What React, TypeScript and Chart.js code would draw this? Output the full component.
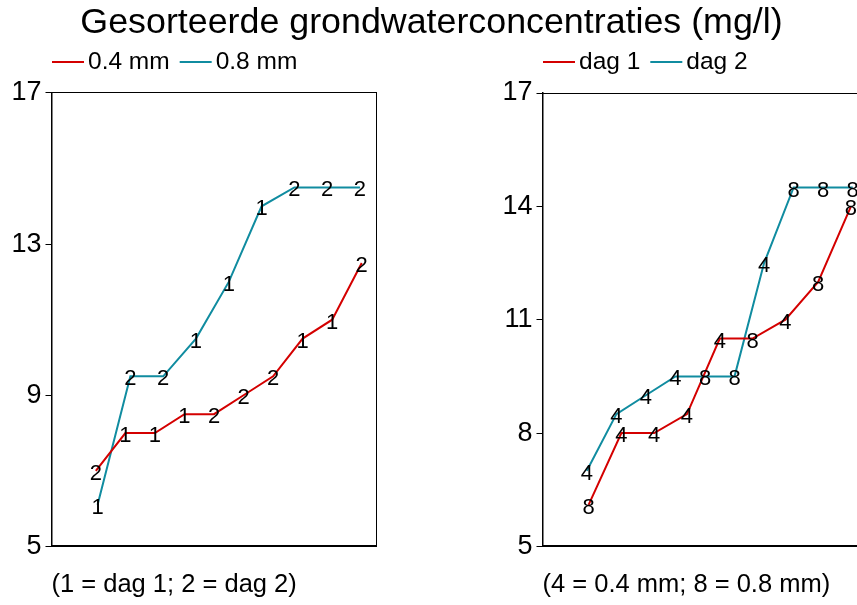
import React, { useEffect, useRef } from 'react';
import { Chart, registerables } from 'chart.js';

Chart.register(...registerables);

// ---------- data ----------
const titleText = 'Gesorteerde grondwaterconcentraties (mg/l)';
const leftCaption = '(1 = dag 1; 2 = dag 2)';
const rightCaption = '(4 = 0.4 mm; 8 = 0.8 mm)';

// plotting positions (fraction of the sorted series)
const pos10 = [0.05, 0.15, 0.25, 0.35, 0.45, 0.55, 0.65, 0.75, 0.85, 0.95];
const pos9 = [0.056, 0.167, 0.278, 0.389, 0.5, 0.611, 0.722, 0.833, 0.944];

// left panel: per grain size, labels = day
const mm04Values = [7.0, 8.0, 8.0, 8.5, 8.5, 9.0, 9.5, 10.5, 11.0, 12.5];
const mm04Day = ['2', '1', '1', '1', '2', '2', '2', '1', '1', '2'];
const mm08Values = [6.1, 9.5, 9.5, 10.5, 12.0, 14.0, 14.5, 14.5, 14.5];
const mm08Day = ['1', '2', '2', '1', '1', '1', '2', '2', '2'];

// right panel: per day, labels = grain size
const day1Values = [6.1, 8.0, 8.0, 8.5, 10.5, 10.5, 11.0, 12.0, 14.0];
const day1Mm = ['8', '4', '4', '4', '4', '8', '4', '8', '8'];
const day2Values = [7.0, 8.5, 9.0, 9.5, 9.5, 9.5, 12.5, 14.5, 14.5, 14.5];
const day2Mm = ['4', '4', '4', '4', '8', '8', '4', '8', '8', '8'];

const leftTicks = { min: 5, max: 17, step: 4 };
const rightTicks = { min: 5, max: 17, step: 3 };

// ---------- styling ----------
const FONT = "'Liberation Sans', Arial, Helvetica, sans-serif";
const RED = '#D40000';
const TEAL = '#108CA0';

const toPoints = (xs: number[], ys: number[]) => ys.map((y, i) => ({ x: xs[i], y }));

const rLegend = {
  id: 'rLegend',
  afterDraw(chart: any, _args: any, opts: any) {
    const { ctx, chartArea } = chart;
    ctx.save();
    ctx.font = `${opts.size}px ${FONT}`;
    ctx.textBaseline = 'middle';
    ctx.textAlign = 'left';
    let x = chartArea.left + (opts.dx || 0);
    const y = opts.y;
    chart.data.datasets.forEach((ds: any) => {
      ctx.strokeStyle = ds.borderColor;
      ctx.lineWidth = 2;
      ctx.beginPath();
      ctx.moveTo(x, y);
      ctx.lineTo(x + opts.line, y);
      ctx.stroke();
      x += opts.line + opts.gap;
      ctx.fillStyle = '#000';
      ctx.fillText(ds.label, x, y);
      x += ctx.measureText(ds.label).width + opts.after;
    });
    ctx.restore();
  },
};

const pointText = {
  id: 'pointText',
  afterDatasetsDraw(chart: any, _args: any, opts: any) {
    const { ctx } = chart;
    ctx.save();
    ctx.font = `${opts.size}px ${FONT}`;
    ctx.textBaseline = 'middle';
    ctx.textAlign = 'center';
    ctx.fillStyle = '#000';
    chart.data.datasets.forEach((ds: any, i: number) => {
      const meta = chart.getDatasetMeta(i);
      meta.data.forEach((el: any, j: number) => {
        ctx.fillText(ds.pointText[j], el.x, el.y + (opts.dy || 0));
      });
    });
    ctx.restore();
  },
};

function buildConfig(kind: 'left' | 'right'): any {
  const isLeft = kind === 'left';
  const datasets = isLeft
    ? [
        { label: '0.4 mm', data: toPoints(pos10, mm04Values), pointText: mm04Day, borderColor: RED, backgroundColor: RED },
        { label: '0.8 mm', data: toPoints(pos9, mm08Values), pointText: mm08Day, borderColor: TEAL, backgroundColor: TEAL },
      ]
    : [
        { label: 'dag 1', data: toPoints(pos9, day1Values), pointText: day1Mm, borderColor: RED, backgroundColor: RED },
        { label: 'dag 2', data: toPoints(pos10, day2Values), pointText: day2Mm, borderColor: TEAL, backgroundColor: TEAL },
      ];
  datasets.forEach((d: any) => {
    d.borderWidth = 2;
    d.pointRadius = 0;
    d.tension = 0;
    d.fill = false;
  });
  const t = isLeft ? leftTicks : rightTicks;
  const scales: any = {
    x: {
      type: 'linear',
      min: -0.1,
      max: 1.0,
      ticks: { display: false },
      grid: { display: false, drawTicks: false },
      border: { display: true, color: '#000', width: 2 },
      title: {
        display: true,
        text: isLeft ? leftCaption : rightCaption,
        align: 'start',
        color: '#000',
        font: { family: FONT, size: 25.5, lineHeight: 1.2 },
        padding: { top: 23, bottom: 5 },
      },
    },
    x2: {
      type: 'linear',
      position: 'top',
      min: 0,
      max: 1,
      ticks: { display: false },
      grid: { display: false, drawTicks: false },
      border: { display: true, color: '#000', width: 1 },
    },
    y: {
      type: 'linear',
      min: t.min,
      max: t.max,
      ticks: { stepSize: t.step, color: '#000', font: { family: FONT, size: 27 }, padding: 4 },
      grid: { display: true, drawOnChartArea: false, drawTicks: true, tickLength: 6, color: '#000', lineWidth: 1 },
      border: { display: true, color: '#000', width: 1.5 },
      afterFit(s: any) {
        s.width = isLeft ? 45.5 : 51.5;
      },
    },
  };
  if (isLeft) {
    scales.y2 = {
      type: 'linear',
      position: 'right',
      min: 0,
      max: 1,
      ticks: { display: false },
      grid: { display: false, drawTicks: false },
      border: { display: true, color: '#000', width: 1 },
      afterFit(s: any) {
        s.width = 480.5;
      },
    };
  }
  return {
    type: 'line',
    data: { datasets },
    options: {
      responsive: false,
      animation: false,
      layout: {
        padding: isLeft ? { left: 6, right: 0, top: 0, bottom: 0 } : { left: 491, right: 12.5, top: 93, bottom: 0 },
      },
      scales,
      plugins: {
        legend: { display: false },
        tooltip: { enabled: false },
        title: isLeft
          ? {
              display: true,
              text: titleText,
              color: '#000',
              font: { family: FONT, size: 35.8, weight: 'normal', lineHeight: 1.2 },
              padding: { top: 1.5, bottom: 48.5 },
            }
          : { display: false },
        rLegend: { y: 62, size: 24.5, line: 32, gap: 4, after: 10, dx: 0.5 },
        pointText: { size: 22, dy: 3 },
      },
    },
    plugins: [rLegend, pointText],
  };
}

function Panel({ kind, width }: { kind: 'left' | 'right'; width: number }) {
  const ref = useRef<HTMLCanvasElement | null>(null);
  useEffect(() => {
    if (!ref.current) return;
    const chart = new Chart(ref.current, buildConfig(kind));
    return () => chart.destroy();
  }, [kind]);
  return (
    <canvas
      ref={ref}
      width={width}
      height={605}
      style={{ position: 'absolute', left: 0, top: 0, width: `${width}px`, height: '605px' }}
    />
  );
}

export default function App() {
  return (
    <div
      style={{
        position: 'absolute',
        left: 0,
        top: 0,
        width: '857px',
        height: '605px',
        overflow: 'hidden',
        background: '#fff',
      }}
    >
      <Panel kind="left" width={857} />
      <Panel kind="right" width={880} />
    </div>
  );
}
